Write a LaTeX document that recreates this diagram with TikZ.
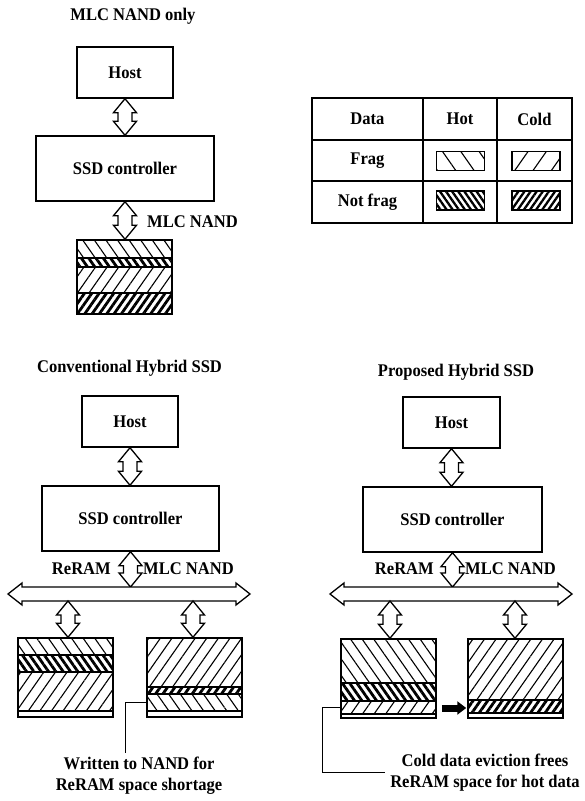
\documentclass[tikz,border=0pt]{standalone}
\usepackage{fontspec}
\setmainfont{Liberation Serif}[FakeStretch=0.93]
\usetikzlibrary{calc,patterns.meta,arrows.meta}

\newcommand{\figfont}{\fontsize{17.8}{21}\selectfont\bfseries}

% vertical outlined double arrow between two points (same x as the first)
\newcommand{\vbiarrow}[2]{%
  \draw[fatarrow] let \p1=(#1), \p2=(#2) in
    (\x1,\y1) -- (\x1+11.5pt,\y1-14pt) -- (\x1+7pt,\y1-14pt)
    -- (\x1+7pt,\y2+14pt) -- (\x1+11.5pt,\y2+14pt) -- (\x1,\y2)
    -- (\x1-11.5pt,\y2+14pt) -- (\x1-7pt,\y2+14pt)
    -- (\x1-7pt,\y1-14pt) -- (\x1-11.5pt,\y1-14pt) -- cycle;}

% horizontal outlined double arrow (bus)
\newcommand{\hbiarrow}[2]{%
  \draw[fatarrow] let \p1=(#1), \p2=(#2) in
    (\x1,\y1) -- (\x1+14pt,\y1+11pt) -- (\x1+14pt,\y1+7pt)
    -- (\x2-14pt,\y1+7pt) -- (\x2-14pt,\y1+11pt) -- (\x2,\y1)
    -- (\x2-14pt,\y1-11pt) -- (\x2-14pt,\y1-7pt)
    -- (\x1+14pt,\y1-7pt) -- (\x1+14pt,\y1-11pt) -- cycle;}

\begin{document}
\begin{tikzpicture}[x=1pt,y=-1pt,
  box/.style={draw, line width=1.4pt, inner sep=0pt, font=\figfont},
  lbl/.style={inner sep=0pt, font=\figfont},
  cell/.style={draw, line width=1.3pt, inner sep=0pt, font=\figfont},
  fatarrow/.style={draw, fill=white, line width=1.3pt, line join=miter},
  layer/.style={draw, line width=1.2pt},
  block/.style={draw, line width=1.5pt, inner sep=0pt},
  hotfrag/.style={pattern={Lines[angle=-55,distance=9.5pt,line width=1.1pt]}},
  coldfrag/.style={pattern={Lines[angle=55,distance=9.5pt,line width=1.1pt]}},
  hotsolid/.style={pattern={Lines[angle=-55,distance=6pt,line width=2.8pt]}},
  coldsolid/.style={pattern={Lines[angle=55,distance=6pt,line width=2.8pt]}},
  hotfragS/.style={pattern={Lines[angle=-55,distance=15pt,line width=1.1pt]}},
  coldfragS/.style={pattern={Lines[angle=55,distance=15pt,line width=1.1pt]}},
  hotsolidS/.style={pattern={Lines[angle=-55,distance=5pt,line width=2.3pt]}},
  coldsolidS/.style={pattern={Lines[angle=55,distance=5pt,line width=2.3pt]}},
  swatch/.style={draw, line width=1.3pt, inner sep=0pt, minimum width=48pt, minimum height=19pt},
  leader/.style={draw, line width=1pt},
]
\useasboundingbox (0,0) rectangle (585,801);

% ---------------- MLC NAND only ----------------
\node[lbl] (t1) at (133,16) {MLC NAND only};
\node[box, minimum width=96pt, minimum height=51pt] (host1) at (125,72.5) {Host};
\node[box, minimum width=178pt, minimum height=65pt] (ctrl1) at (125,168.5) {SSD controller};

\draw[layer, hotfrag]   (77,240) rectangle (172,258);
\draw[layer, hotsolid]  (77,258) rectangle (172,267);
\draw[layer, coldfrag]  (77,267) rectangle (172,293);
\draw[layer, coldsolid] (77,293) rectangle (172,314);
\node[block, minimum width=95pt, minimum height=74pt] (nand1) at (124.5,277) {};

\vbiarrow{host1.south}{ctrl1.north}
\vbiarrow{ctrl1.south}{nand1.north}
\node[lbl, anchor=west] (l1) at (147,222) {MLC NAND};

% ---------------- legend table ----------------
\node[cell, minimum width=111pt, minimum height=42pt] (c11) at (367.5,119) {Data};
\node[cell, minimum width=74pt, minimum height=42pt] (c12) at (460,119) {Hot};
\node[cell, minimum width=75pt, minimum height=42pt] (c13) at (534.5,119) {Cold};
\node[cell, minimum width=111pt, minimum height=41pt] (c21) at (367.5,160.5) {Frag};
\node[cell, minimum width=74pt, minimum height=41pt] (c22) at (460,160.5) {};
\node[cell, minimum width=75pt, minimum height=41pt] (c23) at (534.5,160.5) {};
\node[cell, minimum width=111pt, minimum height=42pt] (c31) at (367.5,202) {Not frag};
\node[cell, minimum width=74pt, minimum height=42pt] (c32) at (460,202) {};
\node[cell, minimum width=75pt, minimum height=42pt] (c33) at (534.5,202) {};
\node[swatch, hotfragS]   (s1) at (460.5,161) {};
\node[swatch, coldfragS]  (s2) at (536,161) {};
\node[swatch, hotsolidS]  (s3) at (460.5,200.5) {};
\node[swatch, coldsolidS] (s4) at (536,200.5) {};

% ---------------- Conventional Hybrid SSD ----------------
\node[lbl] (t2) at (129.5,368) {Conventional Hybrid SSD};
\node[box, minimum width=96pt, minimum height=51pt] (host2) at (130,421.5) {Host};
\node[box, minimum width=177pt, minimum height=65pt] (ctrl2) at (130.5,518.5) {SSD controller};
\coordinate (bus2L) at (8,594);
\coordinate (bus2R) at (250,594);
\coordinate (bus2T) at (130.5,587);
\coordinate (bus2a) at (68,601);
\coordinate (bus2b) at (193,601);

\draw[layer, hotfrag]   (18,638) rectangle (113,655);
\draw[layer, hotsolid]  (18,655) rectangle (113,672);
\draw[layer, coldfrag]  (18,672) rectangle (113,711);
\draw[layer]            (18,711) rectangle (113,717);
\node[block, minimum width=95pt, minimum height=79pt] (bL2) at (65.5,677.5) {};

\draw[layer, coldfrag]  (147,638) rectangle (242,687);
\draw[layer, coldsolid] (147,687) rectangle (242,694);
\draw[layer, hotfrag]   (147,694) rectangle (242,711);
\draw[layer]            (147,711) rectangle (242,717);
\node[block, minimum width=95pt, minimum height=79pt] (bR2) at (194.5,677.5) {};

\vbiarrow{host2.south}{ctrl2.north}
\vbiarrow{ctrl2.south}{bus2T}
\hbiarrow{bus2L}{bus2R}
\vbiarrow{bus2a}{bL2.north}
\vbiarrow{bus2b}{bR2.north}
\node[lbl, anchor=east] (r2) at (111,569) {ReRAM};
\node[lbl, anchor=west] (m2) at (143,569) {MLC NAND};

\coordinate (k2a) at (147,702);
\coordinate (k2b) at (125,702);
\coordinate (k2c) at (125,753);
\draw[leader] (k2a) -- (k2b) -- (k2c);
\node[lbl, align=center, anchor=north] (n2) at (139,757) {Written to NAND for\\ReRAM space shortage};

% ---------------- Proposed Hybrid SSD ----------------
\node[lbl] (t3) at (456,372) {Proposed Hybrid SSD};
\node[box, minimum width=97pt, minimum height=51pt] (host3) at (451.5,422.5) {Host};
\node[box, minimum width=179pt, minimum height=65pt] (ctrl3) at (452.5,519.5) {SSD controller};
\coordinate (bus3L) at (330,594);
\coordinate (bus3R) at (572,594);
\coordinate (bus3T) at (452.5,587);
\coordinate (bus3a) at (390,601);
\coordinate (bus3b) at (515,601);

\draw[layer, hotfrag]   (341,639) rectangle (436,683);
\draw[layer, hotsolid]  (341,683) rectangle (436,701);
\draw[layer, coldfrag]  (341,701) rectangle (436,714);
\draw[layer]            (341,714) rectangle (436,718);
\node[block, minimum width=95pt, minimum height=79pt] (bL3) at (388.5,678.5) {};

\draw[layer, coldfrag]  (468,639) rectangle (563,700);
\draw[layer, coldsolid] (468,700) rectangle (563,713);
\draw[layer]            (468,713) rectangle (563,718);
\node[block, minimum width=95pt, minimum height=79pt] (bR3) at (515.5,678.5) {};

\vbiarrow{host3.south}{ctrl3.north}
\vbiarrow{ctrl3.south}{bus3T}
\hbiarrow{bus3L}{bus3R}
\vbiarrow{bus3a}{bL3.north}
\vbiarrow{bus3b}{bR3.north}
\node[lbl, anchor=east] (r3) at (434,569) {ReRAM};
\node[lbl, anchor=west] (m3) at (465,569) {MLC NAND};

% eviction of cold data to NAND
\coordinate (ev) at (0,708);
\draw[line width=7pt, -{Triangle[length=9pt,width=13pt]}, shorten <=5pt, shorten >=1pt]
  (bL3.east |- ev) -- (bR3.west |- ev);

\coordinate (k3a) at (341,707);
\coordinate (k3b) at (322,707);
\coordinate (k3c) at (322,772);
\coordinate (k3d) at (385,772);
\draw[leader] (k3a) -- (k3b) -- (k3c) -- (k3d);
\node[lbl, align=center] (n3) at (485,773) {Cold data eviction frees\\ReRAM space for hot data};
\end{tikzpicture}
\end{document}
